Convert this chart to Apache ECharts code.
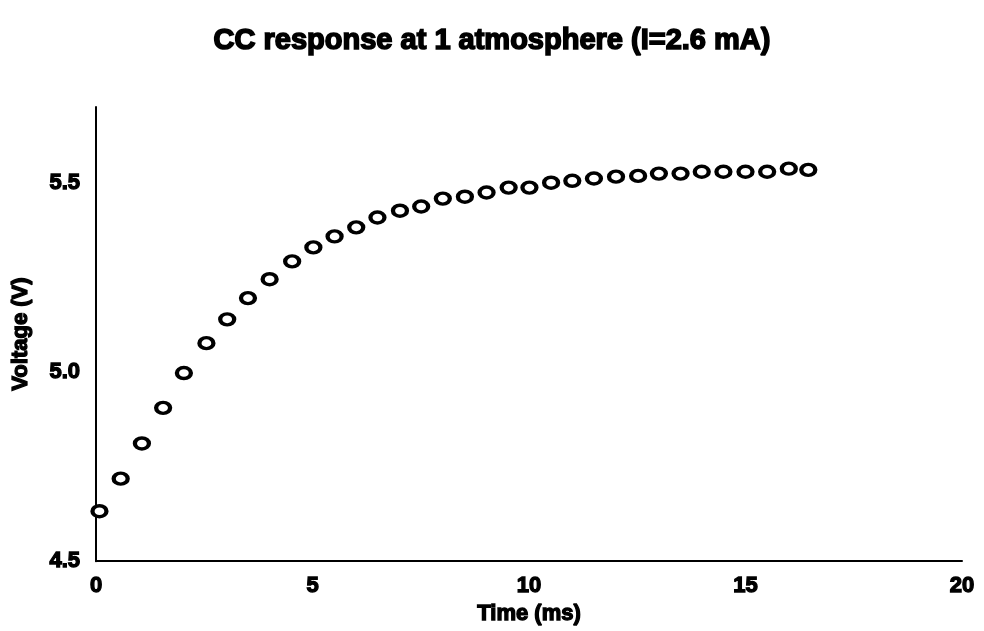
<!DOCTYPE html>
<html>
<head>
<meta charset="utf-8">
<script src="https://cdn.jsdelivr.net/npm/echarts@6/dist/echarts.min.js"></script>
<style>
html,body{margin:0;padding:0;background:#fff;}
#c{width:984px;height:631px;}
</style>
</head>
<body>
<div id="c"></div>
<script>
const titleText = 'CC response at 1 atmosphere (I=2.6 mA)';
const xName = 'Time (ms)';
const yName = 'Voltage (V)';
const times = [0.08, 0.57, 1.06, 1.55, 2.03, 2.55, 3.03, 3.51, 4.01, 4.53, 5.02, 5.51, 6.01, 6.5, 7.02, 7.51, 8.01, 8.52, 9.02, 9.53, 10.01, 10.51, 11.0, 11.5, 12.01, 12.52, 13.0, 13.5, 13.99, 14.49, 15.0, 15.5, 16.0, 16.45];
const voltages = [4.632, 4.718, 4.811, 4.905, 4.997, 5.076, 5.139, 5.195, 5.245, 5.292, 5.329, 5.358, 5.382, 5.408, 5.426, 5.437, 5.458, 5.463, 5.474, 5.487, 5.487, 5.5, 5.505, 5.511, 5.516, 5.518, 5.524, 5.524, 5.529, 5.529, 5.529, 5.529, 5.537, 5.534];
const xTicks = [0, 5, 10, 15, 20];
const yTicks = [4.5, 5.0, 5.5];

const font = '"Liberation Sans", Arial, Helvetica, sans-serif';
const heavy = (size) => ({fontFamily: font, fontWeight: 'bold', fontSize: size, color: '#000',
  textBorderColor: '#000', textBorderWidth: 1.3});
const chart = echarts.init(document.getElementById('c'), null, {renderer: 'canvas'});
chart.setOption({
  animation: false,
  backgroundColor: '#fff',
  title: {
    text: titleText,
    left: 'center',
    top: 21,
    textStyle: Object.assign(heavy(29), {textBorderWidth: 1.6})
  },
  grid: {left: 96, right: 22, top: 107, bottom: 66},
  xAxis: {
    type: 'value',
    min: xTicks[0], max: xTicks[xTicks.length - 1], interval: 5,
    name: xName, nameLocation: 'middle', nameGap: 37,
    nameTextStyle: heavy(22),
    axisLine: {show: true, lineStyle: {color: '#000', width: 2}},
    axisTick: {show: false},
    splitLine: {show: false},
    axisLabel: Object.assign(heavy(22), {margin: 14})
  },
  yAxis: {
    type: 'value',
    min: yTicks[0], max: 5.7, interval: 0.5,
    name: yName, nameLocation: 'middle', nameGap: 64,
    nameTextStyle: heavy(22),
    axisLine: {show: true, lineStyle: {color: '#000', width: 2}},
    axisTick: {show: false},
    splitLine: {show: false},
    axisLabel: Object.assign(heavy(22), {margin: 16,
      showMaxLabel: false,
      formatter: v => yTicks.some(t => Math.abs(t - v) < 1e-9) ? v.toFixed(1) : ''})
  },
  series: [{
    type: 'scatter',
    data: times.map((t, i) => [t, voltages[i]]),
    symbol: 'circle',
    symbolSize: [14, 11],
    itemStyle: {color: '#fff', borderColor: '#000', borderWidth: 3.8, opacity: 1}
  }]
});
</script>
</body>
</html>
